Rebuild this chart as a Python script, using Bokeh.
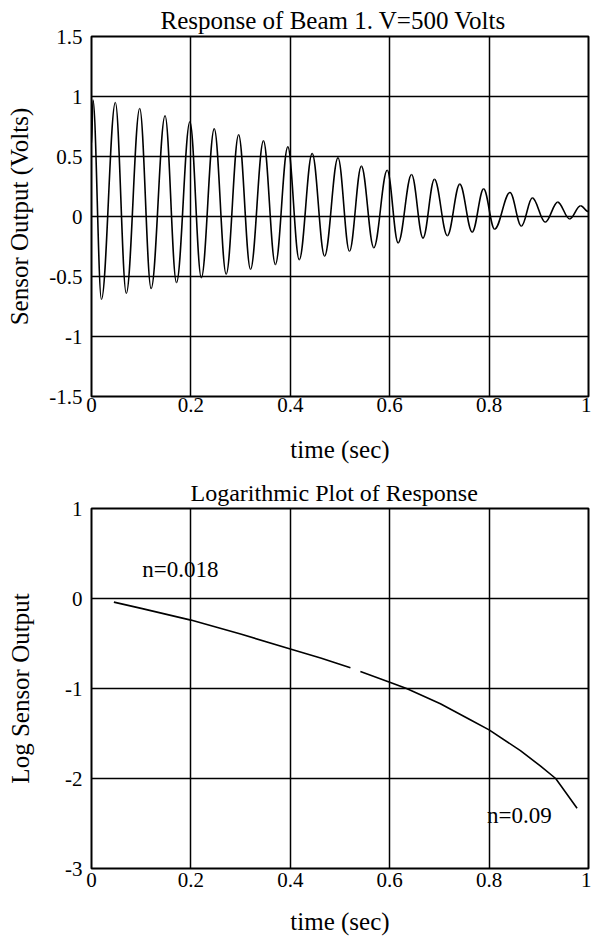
import math
from bokeh.plotting import figure
from bokeh.models import Label, Range1d, FixedTicker
from bokeh.layouts import column
from bokeh.embed import file_html
from bokeh.resources import INLINE

# ---------------- data ----------------
# Top panel: successive extrema (peaks / troughs) of the sensor output
resp_time = [0.000, 0.003, 0.020, 0.048, 0.070, 0.097, 0.120, 0.148, 0.171, 0.198,
             0.221, 0.247, 0.271, 0.296, 0.320, 0.346, 0.370, 0.395, 0.418, 0.444,
             0.469, 0.496, 0.519, 0.543, 0.568, 0.595, 0.617, 0.644, 0.667, 0.690,
             0.716, 0.741, 0.766, 0.789, 0.811, 0.842, 0.865, 0.887, 0.913, 0.938,
             0.962, 0.984, 1.000]
resp_volts = [0.60, 0.97, -0.69, 0.95, -0.64, 0.90, -0.60, 0.84, -0.55, 0.79,
              -0.51, 0.73, -0.48, 0.68, -0.44, 0.63, -0.40, 0.58, -0.36, 0.525,
              -0.33, 0.49, -0.29, 0.42, -0.26, 0.385, -0.22, 0.35, -0.18, 0.31,
              -0.16, 0.27, -0.13, 0.23, -0.105, 0.20, -0.08, 0.155, -0.047, 0.12,
              -0.02, 0.09, 0.04]

# Bottom panel: log of the response envelope (gap near t = 0.53)
log_time = [0.045, 0.10, 0.20, 0.30, 0.40, 0.461, 0.521, float("nan"),
            0.541, 0.60, 0.634, 0.702, 0.763, 0.80, 0.863, 0.903, 0.934, 0.977]
log_value = [-0.04, -0.11, -0.24, -0.395, -0.56, -0.66, -0.77, float("nan"),
             -0.81, -0.93, -1.00, -1.17, -1.35, -1.46, -1.69, -1.86, -2.00, -2.33]

x_ticks = [0, 0.2, 0.4, 0.6, 0.8, 1]
x_tick_labels = ["0", "0.2", "0.4", "0.6", "0.8", "1"]
y1_ticks = [-1.5, -1, -0.5, 0, 0.5, 1, 1.5]
y1_tick_labels = ["-1.5", "-1", "-0.5", "0", "0.5", "1", "1.5"]
y2_ticks = [-3, -2, -1, 0, 1]
y2_tick_labels = ["-3", "-2", "-1", "0", "1"]

note_texts = ["n=0.018", "n=0.09"]
note_x = [0.102, 0.796]
note_y = [0.325, -2.41]

FONT = "Liberation Serif"


def style(p, yticks, ylabels, ylab, title, title_size, title_offset,
          ylab_standoff, xtick_standoff, xlab_standoff):
    p.title.text = title
    p.title.text_font = FONT
    p.title.text_font_size = title_size
    p.title.text_font_style = "normal"
    p.title.text_color = "black"
    p.title.align = "left"
    p.title.offset = title_offset
    p.title.standoff = 5
    p.outline_line_color = "black"
    p.outline_line_width = 2
    p.outline_line_alpha = 1
    p.xaxis.ticker = FixedTicker(ticks=x_ticks)
    p.yaxis.ticker = FixedTicker(ticks=yticks)
    p.xaxis.major_label_overrides = {float(k): v for k, v in zip(x_ticks, x_tick_labels)}
    p.yaxis.major_label_overrides = {float(k): v for k, v in zip(yticks, ylabels)}
    for ax in (p.xaxis, p.yaxis):
        ax.axis_line_color = None
        ax.major_tick_line_color = None
        ax.minor_tick_line_color = None
        ax.major_tick_out = 0
        ax.major_tick_in = 0
        ax.major_label_text_font = FONT
        ax.major_label_text_font_size = "21px"
        ax.major_label_text_color = "black"
        ax.axis_label_text_font = FONT
        ax.axis_label_text_font_size = "25px"
        ax.axis_label_text_font_style = "normal"
        ax.axis_label_text_color = "black"
    p.xaxis.axis_label = "time (sec)"
    p.yaxis.axis_label = ylab
    p.xaxis.major_label_standoff = xtick_standoff
    p.yaxis.major_label_standoff = 9
    p.xaxis.axis_label_standoff = xlab_standoff
    p.yaxis.axis_label_standoff = ylab_standoff
    p.grid.grid_line_color = "black"
    p.grid.grid_line_width = 1.5
    p.grid.grid_line_alpha = 1
    p.xgrid.ticker = FixedTicker(ticks=x_ticks)
    p.ygrid.ticker = FixedTicker(ticks=yticks)
    p.background_fill_color = "white"
    p.border_fill_color = "white"


# ---------------- top figure ----------------
p1 = figure(width=591, height=466, output_backend="svg", toolbar_location=None,
            x_range=Range1d(0, 1), y_range=Range1d(-1.5, 1.5),
            min_border_left=91, min_border_right=3, min_border_top=36,
            min_border_bottom=70)
style(p1, y1_ticks, y1_tick_labels, "Sensor Output (Volts)",
      "Response of Beam 1. V=500 Volts", "25px", 69, 13, 1, 21)

# smooth half-cycles between successive extrema drawn with Bezier glyphs
a = 0.364
x0 = resp_time[:-1]
x1 = resp_time[1:]
y0 = resp_volts[:-1]
y1 = resp_volts[1:]
cx0 = [u + a * (w - u) for u, w in zip(x0, x1)]
cx1 = [w - a * (w - u) for u, w in zip(x0, x1)]
p1.bezier(x0=x0, y0=y0, x1=x1, y1=y1, cx0=cx0, cy0=y0, cx1=cx1, cy1=y1,
          line_color="black", line_width=1.6)

# ---------------- bottom figure ----------------
p2 = figure(width=591, height=471, output_backend="svg", toolbar_location=None,
            x_range=Range1d(0, 1), y_range=Range1d(-3, 1),
            min_border_left=91, min_border_right=3, min_border_top=42,
            min_border_bottom=69)
style(p2, y2_ticks, y2_tick_labels, "Log Sensor Output",
      "Logarithmic Plot of Response", "24px", 99, 28, 4, 18)
p2.line(log_time, log_value, line_color="black", line_width=1.6)

for txt, xx, yy in zip(note_texts, note_x, note_y):
    p2.add_layout(Label(x=xx, y=yy, text=txt, text_font=FONT,
                        text_font_size="23px", text_color="black",
                        text_baseline="alphabetic"))

layout = column(p1, p2, spacing=0)
with open("out.html", "w") as f:
    f.write(file_html(layout, INLINE))
